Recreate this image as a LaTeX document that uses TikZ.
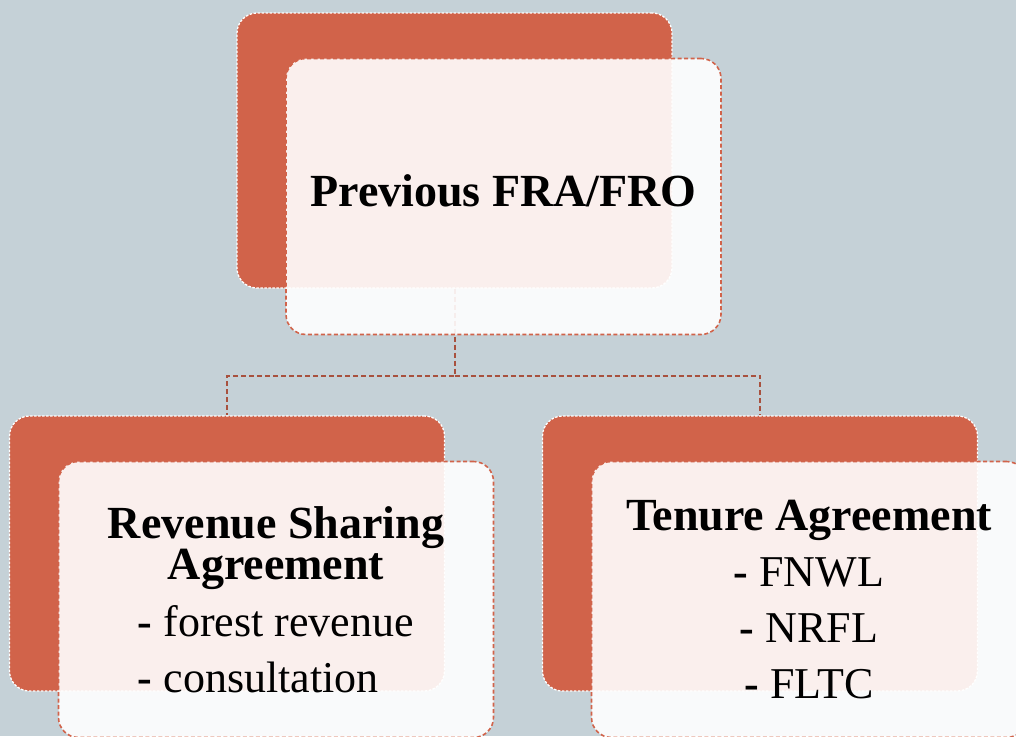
\documentclass[tikz,border=0pt]{standalone}
\usepackage{fontspec}
\setmainfont{Liberation Serif}
\definecolor{slate}{HTML}{C5D1D7}
\definecolor{rust}{HTML}{D1634A}
\definecolor{rustdark}{HTML}{A8513E}

\begin{document}
\begin{tikzpicture}[x=1pt, y=-1pt,
    backbox/.style={fill=rust, draw=white, dash pattern=on 2.5pt off 1.5pt, line width=1.3pt,
      rounded corners=20pt, minimum width=435pt, minimum height=275pt, inner sep=0pt},
    frontbox/.style={fill=white, fill opacity=0.9, draw opacity=1, text opacity=1, draw=rust,
      dash pattern=on 4pt off 2.5pt, line width=1.6pt, rounded corners=20pt,
      minimum width=435pt, minimum height=276pt, inner sep=0pt, align=center},
    link/.style={draw=rustdark, dash pattern=on 5pt off 3pt, line width=2pt}]
  \useasboundingbox (0,0) rectangle (1016,736);
  \clip (0,0) rectangle (1016,736);
  \fill[slate] (0,0) rectangle (1016,736);

  % back boxes
  \node[backbox] (prev) at (454.5,150.5) {};
  \node[backbox] (rsa) at (227,553.5) {};
  \node[backbox] (tenure) at (760,553.5) {};

  % connectors
  \path (prev.south) ++(0,87) coordinate (split);
  \draw[link] (prev.south) -- (split) -| (rsa.north);
  \draw[link] (split) -| (tenure.north);

  % front boxes
  \node[frontbox, xshift=49pt, yshift=-46pt, font=\bfseries\fontsize{46}{56}\selectfont]
    (prevtext) at (prev) {Previous FRA/FRO\rule[-12pt]{0pt}{1pt}};
  \node[frontbox, xshift=49pt, yshift=-46pt, font=\fontsize{44}{40}\selectfont]
    (rsatext) at (rsa) {\rule{0pt}{44pt}\textbf{\fontsize{46}{40}\selectfont Revenue Sharing}\\
      \textbf{\fontsize{46}{40}\selectfont Agreement}\\[14pt]
      \begin{tabular}[t]{@{}l@{}}\textbf{-} forest revenue\\[14pt]\textbf{-} consultation\end{tabular}};
  \node[frontbox, xshift=49pt, yshift=-46pt, font=\fontsize{44}{56}\selectfont]
    (tenuretext) at (tenure) {\textbf{\fontsize{46}{56}\selectfont Tenure Agreement}\\
      \textbf{-} FNWL\\\textbf{-} NRFL\\\textbf{-} FLTC};
\end{tikzpicture}
\end{document}
